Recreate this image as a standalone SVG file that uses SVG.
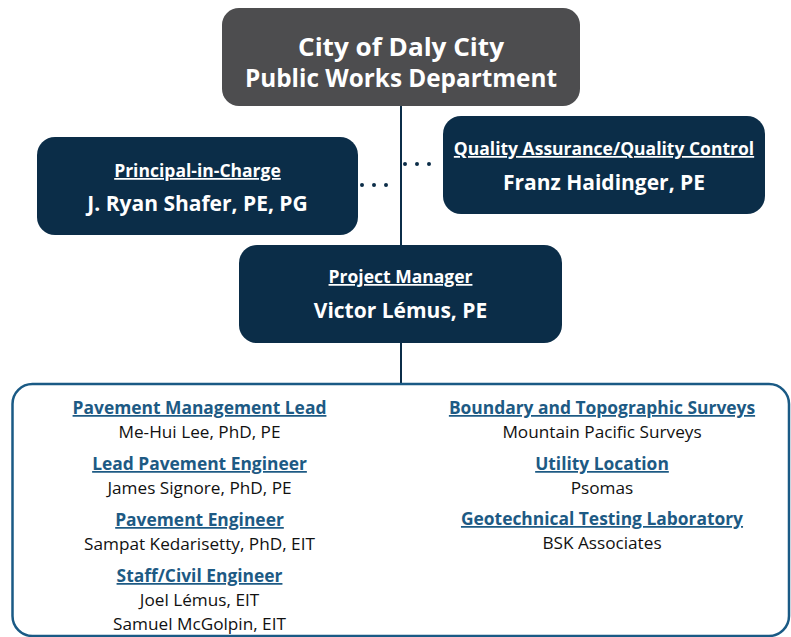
<svg xmlns="http://www.w3.org/2000/svg" width="791" height="637" viewBox="0 0 791 637">
<style>
.box{fill:#0b2d48}
.top{fill:#4d4d4f}
.t{font-family:"Open Sans","Liberation Sans",sans-serif;fill:#fff;text-anchor:middle;font-weight:bold}
.title{font-size:25px}
.role{font-size:17.5px;text-decoration:underline}
.name{font-size:21px}
.h{font-family:"Open Sans","Liberation Sans",sans-serif;fill:#1d5a84;font-weight:bold;font-size:17.4px;text-anchor:middle;text-decoration:underline}
.n{font-family:"Open Sans","Liberation Sans",sans-serif;fill:#111;font-size:17.2px;text-anchor:middle}
.line{stroke:#0b2d48;stroke-width:2;fill:none}
.dot{stroke:#0b2d48;stroke-width:4;stroke-linecap:round;stroke-dasharray:0 12;fill:none}
</style>
<rect width="791" height="637" fill="#fff"/>
<g id="connectors">
<line class="line" x1="401" y1="100" x2="401" y2="385"/>
<line class="dot" x1="362" y1="185" x2="398" y2="185"/>
<line class="dot" x1="405" y1="164" x2="441" y2="164"/>
</g>
<g id="city">
<rect class="top" x="222" y="8" width="358" height="98" rx="17"/>
<text class="t title" x="401" y="56" textLength="206" lengthAdjust="spacingAndGlyphs">City of Daly City</text>
<text class="t title" x="401" y="87" textLength="312" lengthAdjust="spacingAndGlyphs">Public Works Department</text>
</g>
<g id="principal">
<rect class="box" x="37" y="137" width="321" height="98" rx="18"/>
<text class="t role" x="197.5" y="177">Principal-in-Charge</text>
<text class="t name" x="197.5" y="211">J. Ryan Shafer, PE, PG</text>
</g>
<g id="qaqc">
<rect class="box" x="443" y="116" width="322" height="98" rx="18"/>
<text class="t role" x="604" y="155">Quality Assurance/Quality Control</text>
<text class="t name" x="604" y="190">Franz Haidinger, PE</text>
</g>
<g id="pm">
<rect class="box" x="239" y="245" width="323" height="98" rx="18"/>
<text class="t role" x="400.5" y="283">Project Manager</text>
<text class="t name" x="400.5" y="318">Victor Lémus, PE</text>
</g>
<g id="team">
<rect x="12.5" y="384" width="776.5" height="252" rx="20" fill="none" stroke="#1a5a85" stroke-width="2.5"/>
<text class="h" x="199.5" y="414">Pavement Management Lead</text>
<text class="n" x="199.5" y="438">Me-Hui Lee, PhD, PE</text>
<text class="h" x="199.5" y="470">Lead Pavement Engineer</text>
<text class="n" x="199.5" y="494">James Signore, PhD, PE</text>
<text class="h" x="199.5" y="526">Pavement Engineer</text>
<text class="n" x="199.5" y="550">Sampat Kedarisetty, PhD, EIT</text>
<text class="h" x="199.5" y="582">Staff/Civil Engineer</text>
<text class="n" x="199.5" y="606">Joel Lémus, EIT</text>
<text class="n" x="199.5" y="630">Samuel McGolpin, EIT</text>
<text class="h" x="602" y="414">Boundary and Topographic Surveys</text>
<text class="n" x="602" y="438">Mountain Pacific Surveys</text>
<text class="h" x="602" y="470">Utility Location</text>
<text class="n" x="602" y="494">Psomas</text>
<text class="h" x="602" y="525">Geotechnical Testing Laboratory</text>
<text class="n" x="602" y="549">BSK Associates</text>
</g>
</svg>
